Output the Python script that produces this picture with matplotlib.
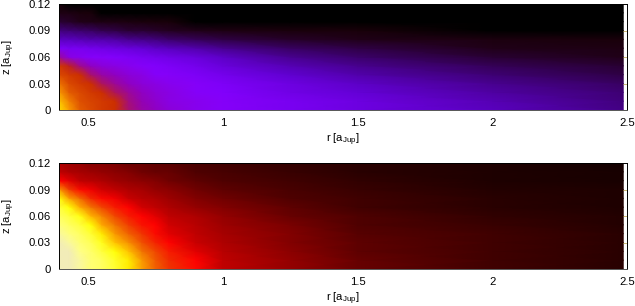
import matplotlib
matplotlib.use('Agg')
import numpy as np
import matplotlib.pyplot as plt
from matplotlib.colors import LinearSegmentedColormap

plt.rcParams['font.family'] = ['Liberation Sans', 'DejaVu Sans']
plt.rcParams['mathtext.fontset'] = 'custom'
plt.rcParams['mathtext.rm'] = 'Liberation Sans'

# --- Data (colour scale value, rows are z, columns are r) ---
r_vals = [0.392, 0.43, 0.47, 0.51, 0.55, 0.6, 0.65, 0.7, 0.75, 0.8, 0.9, 1.0, 1.25, 1.5, 2.0, 2.486]
z_vals = [0.0, 0.01, 0.02, 0.03, 0.04, 0.05, 0.06, 0.07, 0.08, 0.09, 0.10, 0.11, 0.12]

top_vals = [
    [1.00, 0.92, 0.86, 0.82, 0.79, 0.76, 0.66, 0.60, 0.57, 0.55, 0.52, 0.50, 0.47, 0.43, 0.35, 0.27],
    [0.96, 0.90, 0.84, 0.81, 0.78, 0.75, 0.65, 0.59, 0.56, 0.54, 0.52, 0.50, 0.46, 0.42, 0.34, 0.26],
    [0.92, 0.86, 0.82, 0.79, 0.76, 0.68, 0.62, 0.57, 0.55, 0.53, 0.51, 0.49, 0.44, 0.40, 0.31, 0.24],
    [0.88, 0.83, 0.79, 0.76, 0.68, 0.62, 0.58, 0.55, 0.53, 0.52, 0.50, 0.48, 0.42, 0.37, 0.28, 0.21],
    [0.83, 0.79, 0.75, 0.66, 0.60, 0.57, 0.55, 0.53, 0.51, 0.50, 0.48, 0.45, 0.38, 0.33, 0.24, 0.18],
    [0.78, 0.72, 0.63, 0.58, 0.55, 0.53, 0.52, 0.50, 0.49, 0.48, 0.45, 0.41, 0.34, 0.28, 0.20, 0.14],
    [0.62, 0.54, 0.52, 0.50, 0.50, 0.49, 0.48, 0.47, 0.45, 0.44, 0.41, 0.37, 0.28, 0.23, 0.15, 0.11],
    [0.48, 0.47, 0.46, 0.45, 0.44, 0.43, 0.41, 0.39, 0.37, 0.35, 0.32, 0.28, 0.22, 0.17, 0.11, 0.07],
    [0.36, 0.35, 0.34, 0.33, 0.32, 0.31, 0.29, 0.27, 0.25, 0.23, 0.20, 0.17, 0.13, 0.10, 0.06, 0.03],
    [0.25, 0.24, 0.23, 0.21, 0.19, 0.17, 0.15, 0.14, 0.13, 0.12, 0.10, 0.08, 0.05, 0.03, 0.00, 0.00],
    [0.14, 0.13, 0.11, 0.09, 0.08, 0.07, 0.06, 0.05, 0.04, 0.03, 0.02, 0.01, 0.00, 0.00, 0.00, 0.00],
    [0.08, 0.07, 0.05, 0.03, 0.02, 0.01, 0.00, 0.00, 0.00, 0.00, 0.00, 0.00, 0.00, 0.00, 0.00, 0.00],
    [0.03, 0.02, 0.01, 0.00, 0.00, 0.00, 0.00, 0.00, 0.00, 0.00, 0.00, 0.00, 0.00, 0.00, 0.00, 0.00],
]

bottom_vals = [
    [1.00, 1.00, 0.96, 0.93, 0.90, 0.84, 0.76, 0.67, 0.57, 0.50, 0.44, 0.36, 0.28, 0.21, 0.15, 0.11],
    [1.00, 1.00, 0.96, 0.92, 0.89, 0.83, 0.75, 0.66, 0.56, 0.49, 0.43, 0.35, 0.28, 0.21, 0.15, 0.11],
    [1.00, 0.99, 0.95, 0.91, 0.86, 0.78, 0.72, 0.61, 0.53, 0.47, 0.40, 0.34, 0.27, 0.20, 0.14, 0.10],
    [1.00, 0.96, 0.93, 0.88, 0.81, 0.72, 0.65, 0.55, 0.48, 0.43, 0.37, 0.33, 0.26, 0.20, 0.14, 0.10],
    [0.97, 0.94, 0.90, 0.84, 0.75, 0.66, 0.58, 0.50, 0.44, 0.40, 0.36, 0.31, 0.25, 0.19, 0.14, 0.10],
    [0.94, 0.90, 0.85, 0.78, 0.69, 0.60, 0.52, 0.45, 0.42, 0.38, 0.34, 0.30, 0.24, 0.18, 0.13, 0.09],
    [0.90, 0.85, 0.80, 0.70, 0.63, 0.53, 0.46, 0.42, 0.39, 0.36, 0.32, 0.28, 0.22, 0.17, 0.12, 0.09],
    [0.85, 0.78, 0.69, 0.61, 0.53, 0.46, 0.42, 0.38, 0.36, 0.33, 0.29, 0.25, 0.20, 0.15, 0.11, 0.08],
    [0.78, 0.68, 0.59, 0.49, 0.44, 0.41, 0.37, 0.34, 0.32, 0.30, 0.26, 0.23, 0.18, 0.14, 0.10, 0.07],
    [0.66, 0.52, 0.44, 0.41, 0.38, 0.35, 0.33, 0.31, 0.29, 0.27, 0.23, 0.20, 0.16, 0.13, 0.09, 0.07],
    [0.43, 0.39, 0.36, 0.34, 0.32, 0.30, 0.28, 0.27, 0.25, 0.23, 0.20, 0.18, 0.14, 0.12, 0.08, 0.06],
    [0.36, 0.33, 0.31, 0.30, 0.28, 0.27, 0.25, 0.23, 0.22, 0.21, 0.18, 0.16, 0.13, 0.11, 0.08, 0.06],
    [0.33, 0.30, 0.28, 0.26, 0.25, 0.24, 0.22, 0.21, 0.20, 0.19, 0.16, 0.15, 0.12, 0.10, 0.07, 0.05],
]

r_ticks = [0.5, 1, 1.5, 2, 2.5]
r_tick_labels = ['0.5', '1', '1.5', '2', '2.5']
z_ticks = [0, 0.03, 0.06, 0.09, 0.12]
z_tick_labels = ['0', '0.03', '0.06', '0.09', '0.12']

# --- Colour maps (stepped, the reference palette shows bands) ---
top_cmap = LinearSegmentedColormap.from_list('top', [
    (0.00, '#000000'), (0.015, '#000000'), (0.02, '#180008'), (0.10, '#200018'),
    (0.25, '#40007a'), (0.38, '#6000d0'), (0.50, '#8400ff'), (0.58, '#9000c0'),
    (0.66, '#a81070'), (0.74, '#c82800'), (0.84, '#dc4c00'), (0.92, '#f89000'),
    (1.00, '#ffe000'),
], N=72)
bottom_cmap = LinearSegmentedColormap.from_list('bottom', [
    (0.00, '#000000'), (0.10, '#2a0000'), (0.20, '#600000'), (0.30, '#a00000'),
    (0.38, '#d00000'), (0.42, '#ff0000'), (0.50, '#f03000'), (0.60, '#f07000'),
    (0.70, '#ffb000'), (0.78, '#ffff00'), (0.90, '#ffff60'), (0.97, '#ffff90'),
    (0.975, '#f2ecb8'), (1.00, '#f2ecb8'),
], N=72)

W, H = 635, 306
fig = plt.figure(figsize=(W / 100, H / 100), dpi=100)

panels = [(top_vals, top_cmap, 4, 110), (bottom_vals, bottom_cmap, 163, 269)]
for vals, cmap, y0, y1 in panels:
    ax = fig.add_axes([59 / W, 1 - y1 / H, (627 - 59) / W, (y1 - y0) / H])
    ax.pcolormesh(r_vals, z_vals, np.array(vals), cmap=cmap, vmin=0, vmax=1, shading='gouraud')
    ax.set_xlim(0.392, 2.5)
    ax.set_ylim(0, 0.12)
    ax.set_xticks(r_ticks)
    ax.set_xticklabels(r_tick_labels)
    ax.set_yticks(z_ticks)
    ax.set_yticklabels(z_tick_labels)
    ax.tick_params(labelsize=8.1, length=0, pad=6)
    ax.tick_params(axis='y', right=True, direction='in', length=3, width=0.5, color='#b8a040')
    ax.tick_params(axis='y', left=False)
    ax.set_xlabel(r'r [a$_{\mathrm{Jup}}$]', fontsize=8.1, labelpad=2)
    ax.set_ylabel(r'z [a$_{\mathrm{Jup}}$]', fontsize=8.1, labelpad=8)
    for s in ax.spines.values():
        s.set_linewidth(0.7)
    ax.spines['bottom'].set_color('#555555')

plt.savefig('out.png', dpi=100)
plt.close()
